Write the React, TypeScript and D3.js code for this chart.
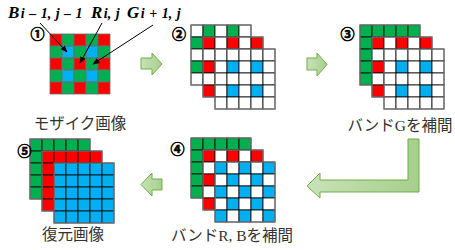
import * as d3 from "d3";

// colours of the three bands
const bandColor: Record<string, string> = { R: "#ff0000", G: "#00b050", B: "#00b0f0" };

// Bayer mosaic (row by row)
const mosaic = ["RGRGR", "GBGBG", "RGRGR", "GBGBG", "RGRGR"];
// B band after diagonal interpolation
const bInterp = ["BWBWB", "WBWBW", "BWBWB", "WBWBW", "BWBWB"];
const full = (c: string) => Array.from({ length: 5 }, () => c.repeat(5));
const only = (rows: string[], c: string) =>
  rows.map((r) => r.split("").map((x) => (x === c ? c : "W")).join(""));

// panel origins (G layer top-left) and their layer patterns
const panels = [
  { id: "②", x: 191, y: 25, num: [179, 34], layers: [only(mosaic, "G"), only(mosaic, "R"), only(mosaic, "B")] },
  { id: "③", x: 360, y: 25, num: [347.5, 34], layers: [full("G"), only(mosaic, "R"), only(mosaic, "B")] },
  { id: "④", x: 191, y: 138, num: [177.5, 149], layers: [full("G"), only(mosaic, "R"), bInterp] },
  { id: "⑤", x: 30, y: 139, num: [24.5, 151], layers: [full("G"), full("R"), full("B")] },
];

const captions = [
  { text: "モザイク画像", x: 80, y: 129 },
  { text: "バンドGを補間", x: 400, y: 131 },
  { text: "復元画像", x: 73, y: 240 },
  { text: "バンドR, Bを補間", x: 232, y: 241 },
];

const cell = d3.scaleBand<number>().domain(d3.range(5)).range([0, 60]);
const layerOffset = 12;

function Grid({ rows, x, y, stroke, border }: { rows: string[]; x: number; y: number; stroke: string; border?: string }) {
  return (
    <g transform={`translate(${x},${y})`}>
      {rows.map((row, r) =>
        row.split("").map((c, k) => (
          <rect
            key={`${r}-${k}`}
            x={cell(k)}
            y={cell(r)}
            width={cell.bandwidth()}
            height={cell.bandwidth()}
            fill={bandColor[c] || "#ffffff"}
            stroke={stroke}
            strokeWidth={0.8}
          />
        ))
      )}
      {border && <rect x={0} y={0} width={60} height={60} fill="none" stroke={border} strokeWidth={1.2} />}
    </g>
  );
}

const blockArrows = [
  "M141,58 L152,58 L152,53 L162,64 L152,75 L152,69 L141,69 Z",
  "M307,58 L317,58 L317,53 L327,64.5 L317,76 L317,70 L307,70 Z",
  "M408,139 L419,139 L419,192 L320,192 L320,198 L307,186 L320,173 L320,180 L408,180 Z",
  "M162,179 L152,179 L152,173 L141,184.5 L152,196 L152,190 L162,190 Z",
];

const pointers = [
  { from: [40, 23], to: [67, 52] },
  { from: [102, 23], to: [80, 63] },
  { from: [153, 25], to: [93, 64] },
];

const labels = [
  { main: "B", sub: "i – 1, j – 1", x: 8 },
  { main: "R", sub: "i, j", x: 91 },
  { main: "G", sub: "i + 1, j", x: 127 },
];

export default function App() {
  const serif = "'Liberation Serif', 'Times New Roman', serif";
  const jp = "'Liberation Serif', 'Noto Sans CJK JP', sans-serif";
  const numFont = "'Noto Sans CJK JP', sans-serif";
  return (
    <svg width={455} height={250} style={{ position: "absolute", left: 0, top: 0, background: "#fff" }}>
      <defs>
        <linearGradient id="ga" x1="0" x2="1" y1="0" y2="0">
          <stop offset="0" stopColor="#c9e2b8" />
          <stop offset="1" stopColor="#a6cf8c" />
        </linearGradient>
        <marker id="ah" viewBox="0 0 10 10" refX="9" refY="5" markerWidth="7" markerHeight="7" orient="auto">
          <path d="M0,1 L10,5 L0,9 Z" fill="#000" />
        </marker>
      </defs>

      {/* mosaic */}
      <Grid rows={mosaic} x={50} y={34} stroke="#6d6d6d" />
      <text x={37.5} y={39} fontFamily={numFont} fontWeight="bold" fontSize={14} textAnchor="middle" stroke="#000" strokeWidth={0.6}>①</text>

      {labels.map((l) => (
        <text key={l.main} x={l.x} y={18} fontFamily={serif} fontWeight="bold" fontStyle="italic" fill="#000">
          <tspan fontSize={17}>{l.main}</tspan>
          <tspan fontSize={14} dx={1.5} wordSpacing={1}>{l.sub}</tspan>
        </text>
      ))}
      {pointers.map((p, i) => (
        <line key={i} x1={p.from[0]} y1={p.from[1]} x2={p.to[0]} y2={p.to[1]} stroke="#000" strokeWidth={1} markerEnd="url(#ah)" />
      ))}

      {panels.map((p) => (
        <g key={p.id}>
          {p.layers.map((rows, i) => (
            <Grid key={i} rows={rows} x={p.x + i * layerOffset} y={p.y + i * layerOffset} stroke="#000" border="#7f7f7f" />
          ))}
          <text x={p.num[0]} y={p.num[1] + 5} fontFamily={numFont} fontWeight="bold" fontSize={14} textAnchor="middle" stroke="#000" strokeWidth={0.6}>{p.id}</text>
        </g>
      ))}

      {blockArrows.map((d, i) => (
        <path key={i} d={d} fill="url(#ga)" stroke="#70ad47" strokeWidth={1} />
      ))}

      {captions.map((c) => (
        <text key={c.text} x={c.x} y={c.y} fontFamily={jp} fontSize={15.5} fill="#333" textAnchor="middle">{c.text}</text>
      ))}
    </svg>
  );
}
